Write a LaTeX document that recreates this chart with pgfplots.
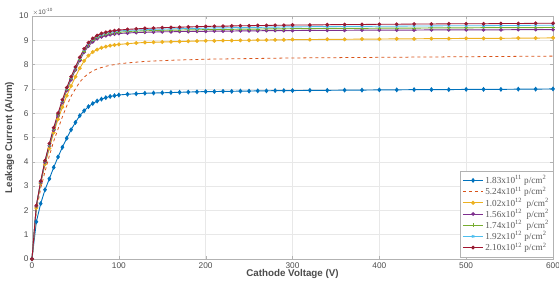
\documentclass[border=0pt]{standalone}
\usepackage{pgfplots}
\usepackage{pgfplotstable}
\pgfplotsset{compat=1.18}
\usepackage{fontspec}
\setmainfont{Liberation Sans}
\newfontfamily\legfont{Liberation Serif}
\definecolor{mblue}{rgb}{0,0.447,0.741}
\definecolor{morange}{rgb}{0.85,0.325,0.098}
\definecolor{myellow}{rgb}{0.929,0.694,0.125}
\definecolor{mpurple}{rgb}{0.494,0.184,0.556}
\definecolor{mgreen}{rgb}{0.466,0.674,0.188}
\definecolor{mcyan}{rgb}{0.301,0.745,0.933}
\definecolor{mred}{rgb}{0.635,0.078,0.184}
\definecolor{ticktext}{gray}{0.3}
\pgfplotstableread{
x b o y p g c r
0 0 0 0 0 0 0 0
5 1.53 2.0 2.1 2.17 2.18 2.19 2.2
10 2.28 2.9 3.1 3.14 3.16 3.18 3.2
15 2.85 3.6 3.9 3.97 4.0 4.03 4.05
20 3.3 4.25 4.55 4.66 4.69 4.72 4.75
25 3.77 4.85 5.2 5.3 5.33 5.37 5.4
30 4.2 5.35 5.75 5.89 5.93 5.97 6.0
35 4.6 5.85 6.25 6.44 6.48 6.52 6.55
40 4.97 6.3 6.72 6.94 6.98 7.02 7.05
45 5.32 6.7 7.12 7.38 7.43 7.47 7.5
50 5.62 7.0 7.5 7.78 7.83 7.87 7.9
55 5.9 7.28 7.85 8.17 8.22 8.26 8.3
60 6.1 7.48 8.15 8.51 8.56 8.61 8.65
65 6.27 7.63 8.37 8.76 8.81 8.86 8.9
70 6.4 7.74 8.52 8.94 8.99 9.04 9.08
75 6.5 7.82 8.62 9.06 9.11 9.16 9.2
80 6.58 7.88 8.69 9.14 9.19 9.24 9.28
85 6.64 7.93 8.74 9.19 9.24 9.29 9.33
90 6.69 7.97 8.78 9.23 9.28 9.33 9.37
95 6.72 8.0 8.81 9.26 9.31 9.36 9.4
100 6.75 8.03 8.83 9.28 9.33 9.38 9.42
110 6.78 8.07 8.86 9.3 9.36 9.41 9.45
120 6.8 8.1 8.89 9.32 9.38 9.42 9.47
130 6.82 8.13 8.91 9.33 9.39 9.44 9.49
140 6.83 8.15 8.92 9.34 9.4 9.45 9.5
150 6.84 8.16 8.93 9.35 9.41 9.46 9.52
160 6.85 8.18 8.94 9.35 9.42 9.47 9.53
170 6.86 8.19 8.95 9.36 9.42 9.48 9.54
180 6.87 8.2 8.96 9.36 9.43 9.49 9.55
190 6.88 8.21 8.97 9.37 9.43 9.49 9.56
200 6.89 8.22 8.98 9.37 9.44 9.5 9.57
210 6.89 8.23 8.98 9.38 9.44 9.51 9.58
220 6.9 8.23 8.99 9.38 9.45 9.51 9.58
230 6.9 8.24 8.99 9.38 9.45 9.52 9.59
240 6.91 8.24 9.0 9.39 9.46 9.52 9.6
250 6.91 8.25 9.0 9.39 9.46 9.53 9.6
260 6.92 8.25 9.01 9.39 9.46 9.53 9.61
270 6.92 8.26 9.01 9.4 9.47 9.54 9.61
280 6.93 8.26 9.02 9.4 9.47 9.54 9.62
290 6.93 8.27 9.02 9.4 9.47 9.55 9.62
300 6.93 8.27 9.03 9.4 9.48 9.55 9.63
320 6.94 8.28 9.03 9.41 9.48 9.56 9.63
340 6.94 8.28 9.04 9.41 9.49 9.56 9.64
360 6.95 8.29 9.04 9.41 9.49 9.57 9.65
380 6.95 8.29 9.05 9.42 9.49 9.57 9.65
400 6.96 8.3 9.05 9.42 9.5 9.58 9.66
420 6.96 8.3 9.06 9.42 9.5 9.58 9.66
440 6.97 8.31 9.06 9.42 9.5 9.59 9.67
460 6.97 8.31 9.07 9.43 9.51 9.59 9.67
480 6.97 8.32 9.07 9.43 9.51 9.6 9.68
500 6.98 8.32 9.08 9.43 9.51 9.6 9.68
520 6.98 8.33 9.08 9.43 9.52 9.6 9.68
540 6.98 8.33 9.08 9.43 9.52 9.61 9.69
560 6.99 8.34 9.09 9.44 9.52 9.61 9.69
580 6.99 8.34 9.09 9.44 9.52 9.62 9.7
600 7.0 8.35 9.1 9.44 9.53 9.62 9.7
}\datatable
\begin{document}
\begin{tikzpicture}
\path[use as bounding box] (-32pt,-24pt) rectangle (527pt,259pt);
\begin{axis}[
  at={(0,0)}, anchor=origin,
  scale only axis, width=521pt, height=243pt,
  xmin=0, xmax=600, ymin=0, ymax=10,
  xtick={0,100,...,600}, ytick={0,1,...,10},
  tick align=inside,
  major tick length=3pt,
  grid=major,
  major grid style={gray!18, line width=0.4pt},
  axis line style={gray!60},
  tick style={gray!60},
  ticklabel style={font=\fontsize{8.3}{9}\selectfont, text=ticktext},
  /pgf/number format/assume math mode=true,
  xlabel={\textbf{Cathode Voltage (V)}},
  ylabel={\textbf{Leakage Current (A/um)}},
  xlabel style={at={(axis description cs:0.5,0)}, anchor=north, yshift=-7pt, font=\fontsize{9.8}{10}\selectfont, text=ticktext},
  ylabel style={at={(axis description cs:-0.043,0.5)}, anchor=center, font=\fontsize{9.8}{10}\selectfont, text=ticktext},
  legend style={at={(axis cs:600,0.08)}, anchor=south east, draw=gray!60, font=\legfont\fontsize{9.2}{9}\selectfont, row sep=-2.4pt, inner sep=2.5pt, text=gray!70!black,
    nodes={inner xsep=1.5pt}},
  legend image code/.code={\draw[#1] (0cm,0cm) -- (0.72cm,0cm); \draw[#1, only marks] plot coordinates {(0.36cm,0cm)};},
  legend cell align=left,
  every axis plot/.append style={line width=0.9pt},
  clip=false,
]
\addplot[color=mblue, mark=diamond*, mark size=1.8pt] table[x=x,y=b]{\datatable};
\addlegendentry{1.83x10\textsuperscript{11} p/cm\textsuperscript{2}}
\addplot[color=morange, dash pattern=on 3pt off 3pt, line width=0.8pt] table[x=x,y=o]{\datatable};
\addlegendentry{5.24x10\textsuperscript{11} p/cm\textsuperscript{2}}
\addplot[color=myellow, mark=*, mark size=1.5pt] table[x=x,y=y]{\datatable};
\addlegendentry{1.02x10\textsuperscript{12}\ \ p/cm\textsuperscript{2}}
\addplot[color=mpurple, mark=*, mark size=1.4pt] table[x=x,y=p]{\datatable};
\addlegendentry{1.56x10\textsuperscript{12}\ \ p/cm\textsuperscript{2}}
\addplot[color=mgreen, mark=+, mark size=1.8pt] table[x=x,y=g]{\datatable};
\addlegendentry{1.74x10\textsuperscript{12}\ \ p/cm\textsuperscript{2}}
\addplot[color=mcyan, mark=x, mark size=1.6pt] table[x=x,y=c]{\datatable};
\addlegendentry{1.92x10\textsuperscript{12} p/cm\textsuperscript{2}}
\addplot[color=mred, mark=*, mark size=1.4pt, mark options={fill=gray!60!black}] table[x=x,y=r]{\datatable};
\addlegendentry{2.10x10\textsuperscript{12} p/cm\textsuperscript{2}}
\node[anchor=south west, inner sep=0.5pt, font=\fontsize{6.5}{7}\selectfont, text=ticktext] at (rel axis cs:0,1) {$\times$10\textsuperscript{-10}};
\end{axis}
\end{tikzpicture}
\end{document}
